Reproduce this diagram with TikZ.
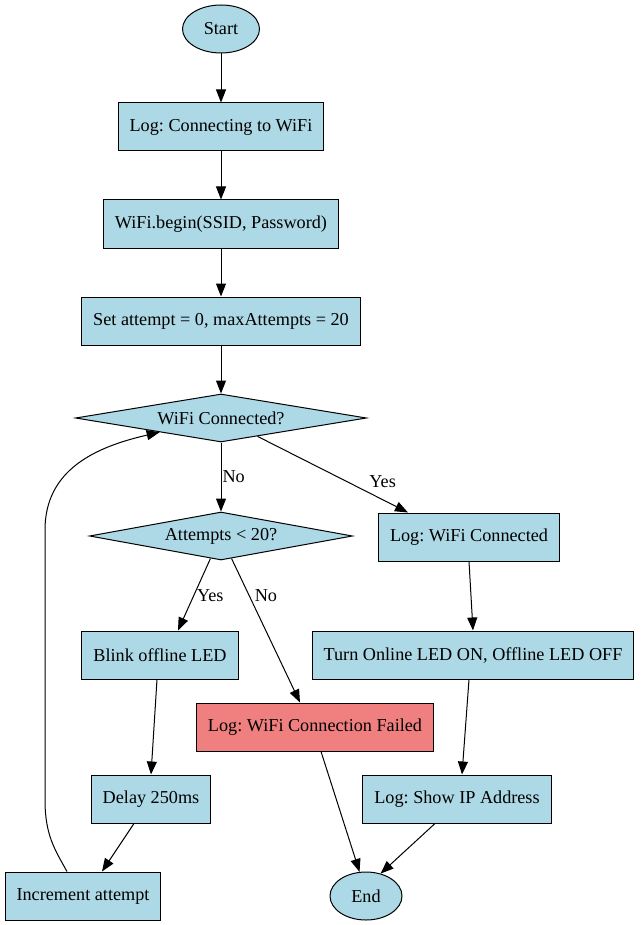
\documentclass[tikz,border=0pt]{standalone}
\usepackage{fontspec}
\setmainfont{Liberation Serif}
\usetikzlibrary{shapes.geometric,arrows.meta,calc}
\definecolor{lightblue}{HTML}{ADD8E6}
\definecolor{lightcoral}{HTML}{F08080}
\frenchspacing
\begin{document}
\begin{tikzpicture}[x=1pt,y=-1pt,
    font=\fontsize{18.2}{22}\selectfont,
    every node/.style={draw,fill=lightblue,line width=1pt},
    box/.style={rectangle,inner xsep=11.5pt,minimum height=48pt},
    term/.style={ellipse,inner sep=0pt,minimum height=48pt},
    choice/.style={diamond,aspect=6,inner sep=0pt,minimum height=48pt},
    lbl/.style={draw=none,fill=none},
    >={Triangle[length=13pt,width=10pt]}]
  \useasboundingbox (0,0) rectangle (640,925);
  \draw
    (221,29) node[term,minimum width=77pt] (start){Start}
    (221,127) node[box] (log){Log: Connecting to WiFi}
    (221,224) node[box] (begin){WiFi.begin(SSID, Password)}
    (221,321) node[box] (init){Set attempt = 0, maxAttempts = 20}
    (221,418) node[choice,minimum width=291pt] (conn){WiFi Connected?}
    (221,536) node[choice,minimum width=263pt] (tries){Attempts < 20?}
    (469,537) node[box] (ok){Log: WiFi Connected}
    (160,655) node[box] (blink){Blink offline LED}
    (473,655) node[box] (leds){Turn Online LED ON, Offline LED OFF}
    (315,727) node[box,fill=lightcoral] (fail){Log: WiFi Connection Failed}
    (151,799) node[box] (delay){Delay 250ms}
    (457,799) node[box] (ip){Log: Show IP Address}
    (83,896) node[box] (inc){Increment attempt}
    (366,896) node[term,minimum width=72pt] (end){End};
  \begin{scope}[->,line width=1pt]
    \draw (start) to (log);
    \draw (log) to (begin);
    \draw (begin) to (init);
    \draw (init) to (conn);
    \draw (conn.south) to node[lbl,right,inner sep=1pt]{No} (tries.north);
    \draw ($(conn.south)!0.25!(conn.east)$) to node[lbl,pos=0.72,above right,inner sep=3pt]{Yes} ([xshift=-61pt]ok.north);
    \draw ($(tries.south)!0.08!(tries.west)$) to node[lbl,pos=0.52,right,inner sep=3pt]{Yes} ([xshift=18pt]blink.north);
    \draw ($(tries.south)!0.08!(tries.east)$) to node[lbl,pos=0.26,right,inner sep=5pt]{No} ([xshift=-15pt]fail.north);
    \draw ([xshift=-3pt]blink.south) to (delay.north);
    \draw ([xshift=-17pt]delay.south) to ([xshift=19pt]inc.north);
    \draw ([xshift=-16pt]inc.north) .. controls (55,850) and (45,835) .. (45,800)
      -- (45,530) .. controls (45,470) and (95,447) .. ($(conn.west)!0.58!(conn.south)$);
    \draw (ok.south) to (leds.north);
    \draw ([xshift=-4pt]leds.south) to ([xshift=5pt]ip.north);
    \draw ([xshift=6pt]fail.south) to (end.105);
    \draw ([xshift=-22pt]ip.south) to (end.57);
  \end{scope}
\end{tikzpicture}
\end{document}
